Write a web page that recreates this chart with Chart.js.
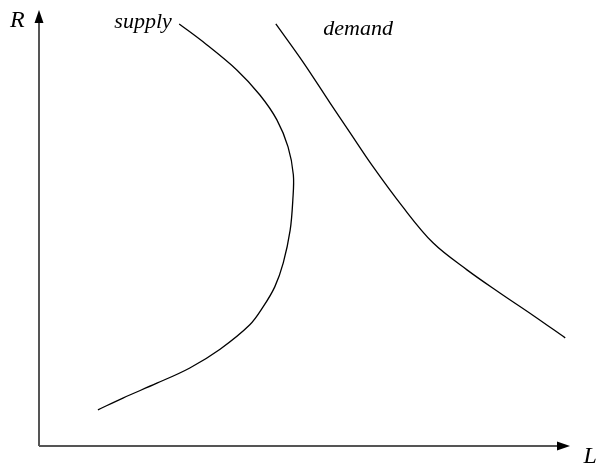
<!DOCTYPE html>
<html>
<head>
<meta charset="utf-8">
<script src="https://cdn.jsdelivr.net/npm/chart.js@4"></script>
<style>
  html, body { margin: 0; padding: 0; background: #fff; }
  #wrap { width: 599px; height: 468px; }
</style>
</head>
<body>
<div id="wrap"><canvas id="chart"></canvas></div>
<script>
// supply curve (backward bending): L on x, R on y
const supplyL = [11.1, 15.8, 22.2, 28.4, 34.1, 39.7, 42.2, 44.4, 46.0, 47.3, 47.8, 47.9, 46.9, 44.8, 41.6, 37.3, 30.9, 26.4];
const supplyR = [8.3, 11.0, 14.4, 17.9, 22.2, 27.8, 31.9, 36.5, 42.0, 49.5, 56.4, 62.2, 68.6, 74.8, 80.5, 86.2, 92.7, 96.8];

// demand curve
const demandL = [44.6, 49.7, 54.8, 58.6, 62.7, 68.4, 74.2, 80.6, 86.8, 93.0, 99.1];
const demandR = [96.8, 88.1, 78.7, 71.8, 64.4, 55.0, 46.6, 40.4, 35.1, 30.0, 24.8];

// text labels and where they sit (data units)
const labelText = ['supply', 'demand', 'R', 'L'];
const labelX = [19.6, 60.1, -4.1, 103.8];
const labelY = [97.2, 95.6, 97.5, -2.5];

function toPoints(xs, ys) {
    return xs.map((x, i) => ({ x: x, y: ys[i] }));
}

// axes with arrow heads plus the italic labels
const axesPlugin = {
    id: 'axesPlugin',
    afterDraw(chart) {
        const ctx = chart.ctx;
        const xs = chart.scales.x;
        const ys = chart.scales.y;
        const x0 = xs.getPixelForValue(0);
        const y0 = ys.getPixelForValue(0);
        const xEnd = xs.getPixelForValue(100);
        const yEnd = ys.getPixelForValue(100);

        ctx.save();
        ctx.strokeStyle = '#555';
        ctx.lineWidth = 2;
        ctx.beginPath();
        ctx.moveTo(x0, y0);
        ctx.lineTo(x0, yEnd + 8);
        ctx.moveTo(x0, y0);
        ctx.lineTo(xEnd - 8, y0);
        ctx.stroke();

        ctx.fillStyle = '#000';
        ctx.beginPath();
        ctx.moveTo(x0, yEnd);
        ctx.lineTo(x0 - 4.5, yEnd + 13);
        ctx.lineTo(x0 + 4.5, yEnd + 13);
        ctx.closePath();
        ctx.fill();
        ctx.beginPath();
        ctx.moveTo(xEnd, y0);
        ctx.lineTo(xEnd - 13, y0 - 4.5);
        ctx.lineTo(xEnd - 13, y0 + 4.5);
        ctx.closePath();
        ctx.fill();

        ctx.textAlign = 'center';
        ctx.textBaseline = 'middle';
        labelText.forEach((t, i) => {
            const big = t.length === 1;
            ctx.font = 'italic ' + (big ? 24 : 22) + 'px "Liberation Serif", "DejaVu Serif", serif';
            ctx.fillText(t, xs.getPixelForValue(labelX[i]), ys.getPixelForValue(labelY[i]));
        });
        ctx.restore();
    }
};

new Chart(document.getElementById('chart'), {
    type: 'scatter',
    data: {
        datasets: [{
            label: 'supply',
            data: toPoints(supplyL, supplyR),
            showLine: true,
            borderColor: '#000',
            borderWidth: 1.3,
            pointRadius: 0,
            tension: 0.35,
            clip: false
        }, {
            label: 'demand',
            data: toPoints(demandL, demandR),
            showLine: true,
            borderColor: '#000',
            borderWidth: 1.3,
            pointRadius: 0,
            tension: 0.35,
            clip: false
        }]
    },
    options: {
        responsive: true,
        maintainAspectRatio: false,
        animation: false,
        layout: { padding: { left: 39, right: 29, top: 10, bottom: 22 } },
        plugins: {
            legend: { display: false },
            tooltip: { enabled: false }
        },
        scales: {
            x: { type: 'linear', min: 0, max: 100, display: false },
            y: { type: 'linear', min: 0, max: 100, display: false }
        }
    },
    plugins: [axesPlugin]
});
</script>
</body>
</html>
